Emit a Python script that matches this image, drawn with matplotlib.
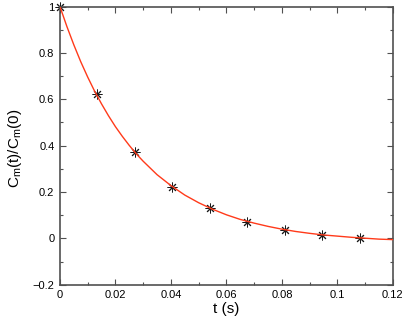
import matplotlib
matplotlib.use("Agg")
import matplotlib.pyplot as plt
from matplotlib.ticker import MultipleLocator

plt.rcParams['font.family'] = ['Liberation Sans', 'DejaVu Sans']

# measured points
t_data = [0.0, 0.0135, 0.027, 0.0405, 0.054, 0.0675, 0.081, 0.0945, 0.108]
c_data = [1.0, 0.623, 0.373, 0.222, 0.130, 0.073, 0.035, 0.015, 0.001]

# fitted curve
t_fit = [0.0, 0.0025, 0.005, 0.0075, 0.01, 0.0125, 0.015, 0.0175, 0.02, 0.0225,
         0.025, 0.0275, 0.03, 0.035, 0.04, 0.045, 0.05, 0.055, 0.06, 0.065,
         0.07, 0.075, 0.08, 0.085, 0.09, 0.095, 0.1, 0.105, 0.11, 0.115, 0.12]
c_fit = [1.0, 0.914, 0.835, 0.762, 0.696, 0.635, 0.580, 0.529, 0.482, 0.440,
         0.401, 0.365, 0.333, 0.275, 0.228, 0.187, 0.154, 0.126, 0.102, 0.082,
         0.066, 0.052, 0.040, 0.030, 0.022, 0.015, 0.010, 0.005, 0.001, -0.003, -0.005]

fig = plt.figure(figsize=(4.05, 3.27), dpi=100)
ax = fig.add_axes([0.148, 0.129, 0.822, 0.851])

ax.plot(t_data, c_data, linestyle='none', marker=(8, 2, 0), markersize=7,
        markeredgewidth=0.7, color='#1a1a1a', zorder=2, clip_on=False)
ax.plot(t_fit, c_fit, color='#ff3a1a', lw=1.0, zorder=3)

ax.set_xlim(0, 0.12)
ax.set_ylim(-0.2, 1.0)
ax.xaxis.set_minor_locator(MultipleLocator(0.01))
ax.yaxis.set_minor_locator(MultipleLocator(0.1))
ax.set_xticks([0, 0.02, 0.04, 0.06, 0.08, 0.1, 0.12])
ax.set_xticklabels(['0', '0.02', '0.04', '0.06', '0.08', '0.1', '0.12'])
ax.set_yticks([-0.2, 0, 0.2, 0.4, 0.6, 0.8, 1.0])
ax.set_yticklabels(['\u22120.2', '0', '0.2', '0.4', '0.6', '0.8', '1'])

ax.tick_params(which='both', direction='in', top=True, right=True,
               color='#505050', labelsize=8, pad=4)
ax.tick_params(which='major', length=4, width=0.8)
ax.tick_params(which='minor', length=2.5, width=0.8)
for s in ax.spines.values():
    s.set_color('#505050')
    s.set_linewidth(1.2)

ax.set_xlabel('t (s)', fontsize=11, labelpad=1)
ax.set_ylabel('C$_\\mathregular{m}$(t)/C$_\\mathregular{m}$(0)', fontsize=11)
ax.yaxis.set_label_coords(-0.108, 0.49)

fig.savefig('out.png', dpi=100)
